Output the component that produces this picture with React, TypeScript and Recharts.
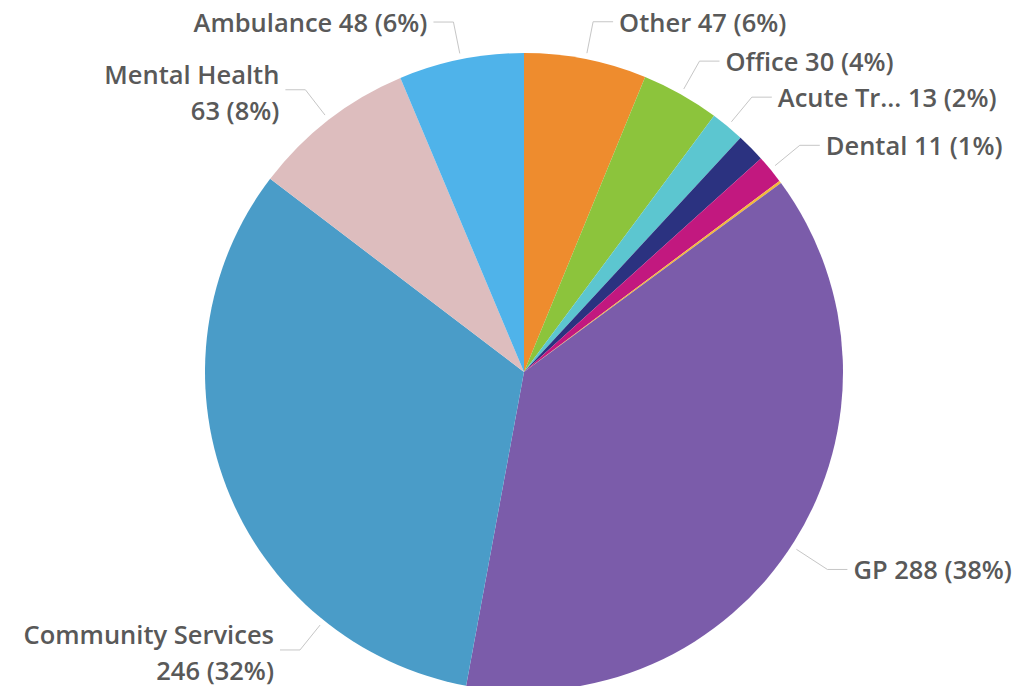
import React from 'react';
import { PieChart, Pie, Cell } from 'recharts';

const categories = [
  'Other', 'Office', 'Acute Trust', 'Pharmacy', 'Dental', 'Optometry',
  'GP', 'Community Services', 'Mental Health', 'Ambulance',
];
const counts = [47, 30, 13, 11, 11, 1, 288, 246, 63, 48];
const colors = [
  '#EE8C2E', '#8CC43C', '#5CC6D0', '#2B3280', '#C2187F', '#F4B93A',
  '#7B5CAA', '#4A9CC8', '#DDBDBE', '#4FB3EA',
];
const shortNames: Record<string, string> = { 'Acute Trust': 'Acute Tr...' };
const twoLineLabels = ['Community Services', 'Mental Health'];
const hiddenLabels = ['Pharmacy', 'Optometry'];
// labels that Power BI nudged off the slice centre (degrees, extra px out)
const labelTweak: Record<string, { shift: number; extra: number }> = {
  GP: { shift: -1, extra: 5 },
  'Community Services': { shift: 30, extra: 0 },
};

const data = categories.map((name, i) => ({ name, value: counts[i] }));

const RADIAN = Math.PI / 180;
const TEXT = '#595959';
const LINE = '#c6c6c6';

const renderLabel = (props: any) => {
  const { cx, cy, midAngle, outerRadius, name, value, percent } = props;
  if (hiddenLabels.includes(name)) return null;
  const tw = labelTweak[name] || { shift: 0, extra: 0 };
  const angle = midAngle + tw.shift;
  const cos = Math.cos(-angle * RADIAN);
  const sin = Math.sin(-angle * RADIAN);
  const sx = cx + (outerRadius + 6) * cos;
  const sy = cy + (outerRadius + 6) * sin;
  const mx = cx + (outerRadius + 38 + tw.extra) * cos;
  const my = cy + (outerRadius + 38 + tw.extra) * sin;
  const right = cos >= 0;
  const ex = mx + (right ? 20 : -20);
  const tx = ex + (right ? 6 : -6);
  const anchor = right ? 'start' : 'end';
  const label = shortNames[name] || name;
  const pct = `${value} (${Math.round(percent * 100)}%)`;
  const style = { fontFamily: '"Open Sans", sans-serif', fontSize: 25.5, fontWeight: 600 };
  return (
    <g>
      <polyline points={`${sx},${sy} ${mx},${my} ${ex},${my}`} fill="none" stroke={LINE} strokeWidth={1} />
      {twoLineLabels.includes(name) ? (
        <text x={tx} y={my - 16} textAnchor={anchor} dominantBaseline="central" fill={TEXT} style={style}>
          <tspan x={tx} y={my - 16}>{label}</tspan>
          <tspan x={tx} y={my + 20}>{pct}</tspan>
        </text>
      ) : (
        <text x={tx} y={my} textAnchor={anchor} dominantBaseline="central" fill={TEXT} style={style}>
          {`${label} ${pct}`}
        </text>
      )}
    </g>
  );
};

export default function App() {
  return (
    <div style={{ position: 'absolute', left: 0, top: 0, width: 1025, height: 686, background: '#fff', overflow: 'hidden' }}>
      <PieChart width={1025} height={686} margin={{ top: 0, right: 0, bottom: 0, left: 0 }}>
        <Pie
          data={data}
          dataKey="value"
          nameKey="name"
          cx={524}
          cy={372}
          outerRadius={319}
          startAngle={90}
          endAngle={-270}
          stroke="none"
          label={renderLabel}
          labelLine={false}
          isAnimationActive={false}
        >
          {data.map((d, i) => (
            <Cell key={d.name} fill={colors[i]} />
          ))}
        </Pie>
      </PieChart>
    </div>
  );
}
